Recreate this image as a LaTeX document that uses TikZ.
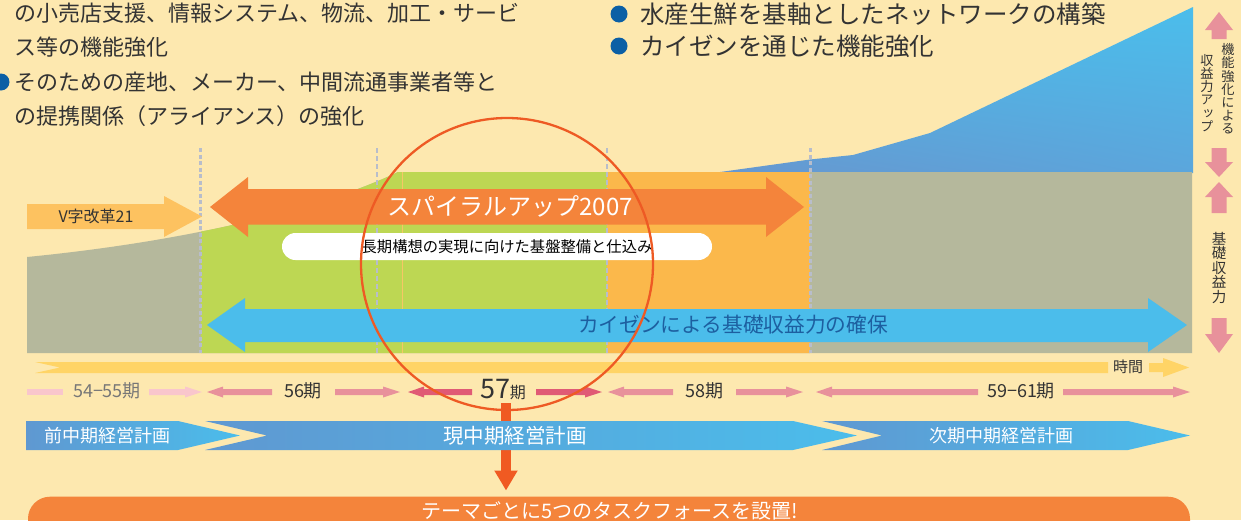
\documentclass[tikz,border=0pt]{standalone}
\usepackage{fontspec}
\setmainfont{Noto Sans CJK JP}
\newfontfamily\vfont[RawFeature=+vert]{Noto Sans CJK JP}
\usetikzlibrary{arrows.meta,shadings}
\definecolor{bg}{HTML}{FDE8AF}
\definecolor{khaki}{HTML}{B5B89C}
\definecolor{lgreen}{HTML}{BDD753}
\definecolor{lorange}{HTML}{FBB84B}
\definecolor{orangeA}{HTML}{F4843B}
\definecolor{cyanA}{HTML}{4BBDEB}
\definecolor{blueB}{HTML}{6797CF}
\definecolor{blueBR}{HTML}{5BA6DC}
\definecolor{planL}{HTML}{5F98D1}
\definecolor{blueT}{HTML}{1D5FA0}
\definecolor{pinkM}{HTML}{E8919B}
\definecolor{pinkD}{HTML}{E05A75}
\definecolor{pinkL}{HTML}{F9C6CC}
\definecolor{tlyellow}{HTML}{FFD466}
\definecolor{vyellow}{HTML}{FDC260}
\definecolor{dotgray}{HTML}{B8BDCB}
\definecolor{thinor}{HTML}{F6C765}
\definecolor{redC}{HTML}{EE5A24}
\definecolor{redA}{HTML}{F05A22}
\definecolor{txt}{HTML}{333333}
\definecolor{grtxt}{HTML}{777777}
\definecolor{bullet}{HTML}{0B5FA5}
\newcommand\fs[1]{\fontsize{#1}{#1}\selectfont}
% thin period arrows: start x, end x, colour
\newcommand\myrar[3]{\fill[#3] (#1,389) -- ({#2-17},389) -- ({#2-17},386.5) -- (#2,392) -- ({#2-17},397.5) -- ({#2-17},395) -- (#1,395) -- cycle;}
\newcommand\mylar[3]{\fill[#3] (#2,389) -- ({#1+16},389) -- ({#1+16},386.5) -- (#1,392) -- ({#1+16},397.5) -- ({#1+16},395) -- (#2,395) -- cycle;}
% vertical pink arrows: tip y, head base y, shaft end y
\newcommand\myvarr[3]{\fill[pinkM] (1219,#1) -- (1233,#2) -- (1226.5,#2) -- (1226.5,#3) -- (1211.5,#3) -- (1211.5,#2) -- (1205,#2) -- cycle;}
\begin{document}
\begin{tikzpicture}[x=1pt,y=-1pt,
  lbl/.style={inner sep=0pt, text=txt},
  dotthick/.style={dotgray, line width=3.3pt, dash pattern=on 4pt off 2.5pt},
  dotthin/.style={dotgray, line width=1.1pt, dash pattern=on 5pt off 3pt}]
\fill[bg] (0,0) rectangle (1241,520);
\useasboundingbox (0,0) rectangle (1241,520);

% ---- top texts
\fill[bullet] (1,82) circle[radius=8.5pt];
\node[lbl, anchor=west, font=\fs{22}] (t1) at (14,13) {の小売店支援、情報システム、物流、加工・サービ};
\node[lbl, anchor=west, font=\fs{22}] (t2) at (14,47) {ス等の機能強化};
\node[lbl, anchor=west, font=\fs{22}] (t3) at (14,82) {そのための産地、メーカー、中間流通事業者等と};
\node[lbl, anchor=west, font=\fs{22}] (t4) at (14,116) {の提携関係（アライアンス）の強化};
\fill[bullet] (619,14) circle[radius=8.5pt];
\fill[bullet] (619,46) circle[radius=8.5pt];
\node[lbl, anchor=west, font=\fs{24.5}] (r1) at (640,14) {水産生鮮を基軸としたネットワークの構築};
\node[lbl, anchor=west, font=\fs{24.5}] (r2) at (640,46) {カイゼンを通じた機能強化};

% ---- blue growth area
\shade[lower left=blueB, lower right=blueBR, upper left=cyanA, upper right=cyanA]
  (713,173) -- (810,159.5) -- (853,155) -- (930,133) -- (1193,7) -- (1193,173) -- cycle;

% ---- base area
\begin{scope}
\clip (27,353) -- (27,257) .. controls (200,240) and (330,205) .. (398,172) -- (1192,172) -- (1192,353) -- cycle;
\fill[khaki] (0,0) rectangle (1241,520);
\fill[lgreen] (201,0) rectangle (607,520);
\fill[lorange] (607,0) rectangle (810,520);
\end{scope}
\draw[thinor, line width=1pt] (402,172) -- (402,353);

% ---- dotted lines
\draw[dotthick] (200.5,148) -- (200.5,353);
\draw[dotthick] (810.5,148) -- (810.5,353);
\draw[dotthin] (377,148) -- (377,353);
\draw[dotthin] (607,148) -- (607,353);

% ---- V arrow
\fill[vyellow] (27,204) -- (164,204) -- (164,196) -- (202,216.5) -- (164,237) -- (164,229) -- (27,229) -- cycle;
\node[lbl, font=\fs{16}] (v21) at (96,216.5) {V字改革21};

% ---- spiral up arrow
\fill[orangeA] (210,207) -- (248,177) -- (248,189) -- (766,189) -- (766,177) -- (804,207) -- (766,237) -- (766,224.5) -- (248,224.5) -- (248,237) -- cycle;
\node[lbl, text=white, font=\fs{24}] (spiral) at (510,206) {スパイラルアップ2007};

% ---- pill
\node[fill=white, rounded corners=13.5pt, minimum width=430pt, minimum height=27pt, inner sep=0pt] (pill) at (497,246.5) {};
\node[lbl, text=black, font=\fs{15.3}] (pilltext) at (507,247) {長期構想の実現に向けた基盤整備と仕込み};

% ---- kaizen arrow
\fill[cyanA] (207,325) -- (245,298) -- (245,309) -- (1148,309) -- (1148,298) -- (1187,325) -- (1148,352) -- (1148,342) -- (245,342) -- (245,352) -- cycle;
\node[lbl, text=blueT, font=\fs{20.7}] (kaizen) at (733,325) {カイゼンによる基礎収益力の確保};

% ---- time line
\fill[tlyellow] (35,362) -- (1108,362) -- (1108,373) -- (35,373) -- (60,367.5) -- cycle;
\fill[tlyellow] (1149,363) -- (1163,363) -- (1163,358) -- (1189,367.5) -- (1163,377) -- (1163,372) -- (1149,372) -- cycle;
\node[lbl, font=\fs{15}] (jikan) at (1128,367) {時間};

% ---- periods
\fill[pinkL] (27,389) rectangle (63,395);
\myrar{149}{202}{pinkL}
\node[lbl, text=grtxt, font=\fs{18}] (p54) at (107,391) {54−55期};
\mylar{207}{272}{pinkM}
\node[lbl, font=\fs{18}] (p56) at (303,391) {56期};
\myrar{335}{400}{pinkM}
\mylar{408}{472}{pinkD}
\node[lbl, font=\fs{27}] (p57) at (503,390) {57{\fs{16}期}};
\myrar{536}{602}{pinkD}
\mylar{608}{673}{pinkM}
\node[lbl, font=\fs{18}] (p58) at (704,391) {58期};
\myrar{736}{803}{pinkM}
\mylar{816}{978}{pinkM}
\node[lbl, font=\fs{18}] (p59) at (1021,391) {59−61期};
\myrar{1063}{1190}{pinkM}

% ---- bottom bar
\node[fill=orangeA, rounded corners=22pt, minimum width=1162pt, minimum height=48pt, inner sep=0pt, anchor=north] (bar) at (609,496.5) {};
\node[lbl, text=white, font=\fs{20}] (bartext) at (610,511) {テーマごとに5つのタスクフォースを設置!};

% ---- down arrow (behind the plan bar)
\coordinate (dtop) at (506,403);
\draw[redA, line width=10pt, -{Triangle[length=20pt,width=22pt]}, shorten >=6pt] (dtop) -- (dtop |- bar.north);

% ---- plan arrows
\shade[left color=planL, right color=cyanA] (26,421) -- (178,421) -- (240,435.5) -- (178,450) -- (26,450) -- cycle;
\shade[left color=planL, right color=cyanA] (205,421) -- (793,421) -- (857,435.5) -- (793,450) -- (205,450) -- (267,435.5) -- cycle;
\shade[left color=planL, right color=cyanA] (822,421) -- (1128,421) -- (1190,435.5) -- (1128,450) -- (822,450) -- (882,435.5) -- cycle;
\node[lbl, text=white, font=\fs{18}] (plan1) at (107,436) {前中期経営計画};
\node[lbl, text=white, font=\fs{20.5}] (plan2) at (515,436) {現中期経営計画};
\node[lbl, text=white, font=\fs{18}] (plan3) at (1001,436) {次期中期経営計画};

% ---- right side labels
\myvarr{12}{30}{39}
\myvarr{177}{162}{148}
\myvarr{182}{197}{213}
\myvarr{353}{334}{318}
\node[lbl, font={\vfont\fs{13.2}}, align=center] (lab1) at (1228,89) {機\\能\\強\\化\\に\\よ\\る};
\node[lbl, font={\vfont\fs{13.2}}, align=center] (lab2) at (1207,93) {収\\益\\力\\ア\\ッ\\プ};
\node[lbl, font={\vfont\fs{14.5}}, align=center] (lab3) at (1219,268) {基\\礎\\収\\益\\力};

% ---- circle
\draw[redC, line width=2.3pt] (507,264) circle[radius=146pt];
\end{tikzpicture}
\end{document}
